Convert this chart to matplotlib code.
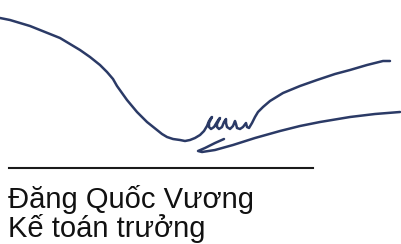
import matplotlib
matplotlib.use("Agg")
import matplotlib.pyplot as plt

# Signature strokes (pixel coordinates)
stroke_main_x = [0, 10, 20, 30, 40, 50, 60, 70, 80, 90, 100, 107, 113, 117, 122, 127, 132, 137, 142, 147, 152, 157, 162,
                 167, 173, 180, 185, 190, 195, 200, 204, 207,
                 209, 211, 212, 211, 209, 209, 211, 214,
                 217, 219, 220, 219, 217, 217, 219, 222,
                 224, 226, 226, 227, 230, 233, 235, 236, 237, 240, 243, 246, 247, 249,
                 252, 255, 258, 263, 270, 283, 300, 317, 335, 350, 367, 383, 390]
stroke_main_y = [18, 20, 23, 26, 30, 34, 38, 44, 50, 57, 65, 72, 79, 86, 93, 100, 106, 112, 117, 122, 126, 130, 134,
                 137, 139, 140, 141, 140, 138, 135, 131, 126,
                 121, 118, 117, 119, 123, 127, 129, 127,
                 122, 119, 118, 120, 124, 127, 129, 127,
                 122, 119, 123, 127, 129, 126, 121, 124, 128, 129, 127, 123, 127, 128,
                 123, 117, 112, 107, 101, 93, 86, 80, 74, 70, 65, 61, 61]
stroke_low_x = [224, 215, 205, 198, 202, 215, 233, 255, 280, 300, 320, 350, 375, 400]
stroke_low_y = [139, 143, 148, 151, 152, 150, 145, 138, 131, 126, 122, 117, 114, 112]

rule_x = [9, 313]
rule_y = [168, 168]

name_text = "Đăng Quốc Vương"
title_text = "Kế toán trưởng"

fig = plt.figure(figsize=(4.01, 2.44), dpi=100)
ax = fig.add_axes([0, 0, 1, 1])
ax.set_xlim(0, 401)
ax.set_ylim(244, 0)
ax.axis("off")

ink = "#2b3a66"
ax.plot(stroke_main_x, stroke_main_y, color=ink, lw=1.8, solid_capstyle="round", solid_joinstyle="round")
ax.plot(stroke_low_x, stroke_low_y, color=ink, lw=1.8, solid_capstyle="round", solid_joinstyle="round")
ax.plot(rule_x, rule_y, color="#1a1a1a", lw=1.5)

ax.text(8, 208, name_text, fontsize=21, family="Liberation Sans", color="#111111", va="baseline", ha="left")
ax.text(8, 237, title_text, fontsize=21, family="Liberation Sans", color="#111111", va="baseline", ha="left")

fig.savefig("out.png", dpi=100)
